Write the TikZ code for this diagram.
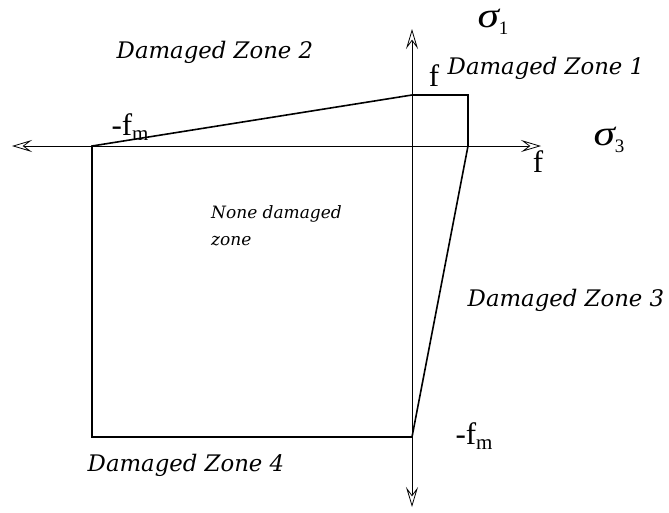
\documentclass[tikz,border=0pt]{standalone}
\usepackage{fontspec}
\setmainfont{Liberation Serif}
\newfontfamily\zonefont{DejaVu Serif}
\usetikzlibrary{arrows.meta}
\newcommand{\fm}{-f\raisebox{-0.3ex}{\fontsize{21}{21}\selectfont m}}
\newcommand{\sig}[1]{\scalebox{1.4}[1.15]{\itshape σ}\raisebox{-0.5ex}{\fontsize{19}{19}\selectfont #1}}

\begin{document}
\begin{tikzpicture}[x=1pt,y=-1pt,>={Stealth[open,length=20pt,width=12pt,inset=8pt]}]
  \tikzstyle{zone}=[inner sep=0pt,font=\zonefont\itshape\fontsize{22.8}{26}\selectfont]
  \tikzstyle{small}=[inner sep=0pt,align=left,font=\zonefont\itshape\fontsize{17}{27}\selectfont]
  \tikzstyle{val}=[inner sep=0pt,font=\fontsize{31}{31}\selectfont]
  \useasboundingbox (0,0) rectangle (669,512);
  % axes
  \coordinate (o) at (412,146);
  \coordinate (xl) at (12,146);
  \coordinate (xr) at (541,146);
  \coordinate (yt) at (412,29);
  \coordinate (yb) at (412,507);
  \draw[->,line width=0.8pt] (o)--(xl);
  \draw[->,line width=0.8pt] (o)--(xr);
  \draw[->,line width=0.8pt] (o)--(yt);
  \draw[->,line width=0.8pt] (o)--(yb);
  % failure envelope
  \coordinate (p1) at (92,146);
  \coordinate (p2) at (412,95);
  \coordinate (p3) at (468,95);
  \coordinate (p4) at (468,146);
  \coordinate (p5) at (412,437);
  \coordinate (p6) at (92,437);
  \draw[line width=1.6pt] (p1)--(p2)--(p3)--(p4)--(p5)--(p6)--cycle;
  % labels
  \node[val] (s1) at (493,22) {\sig{1}};
  \node[val] (s3) at (609,140) {\sig{3}};
  \node[val] (ft) at (434,76) {f};
  \node[val] (fr) at (538,162) {f};
  \node[val] (fml) at (130,127) {\fm};
  \node[val] (fmb) at (474,436) {\fm};
  \node[zone] (z1) at (546,68) {Damaged Zone 1};
  \node[zone] (z2) at (215,52) {Damaged Zone 2};
  \node[zone] (z3) at (566,300) {Damaged Zone 3};
  \node[zone] (z4) at (186,465) {Damaged Zone 4};
  \node[small,anchor=west] (nd) at (211,226) {None damaged\\zone};
\end{tikzpicture}
\end{document}
